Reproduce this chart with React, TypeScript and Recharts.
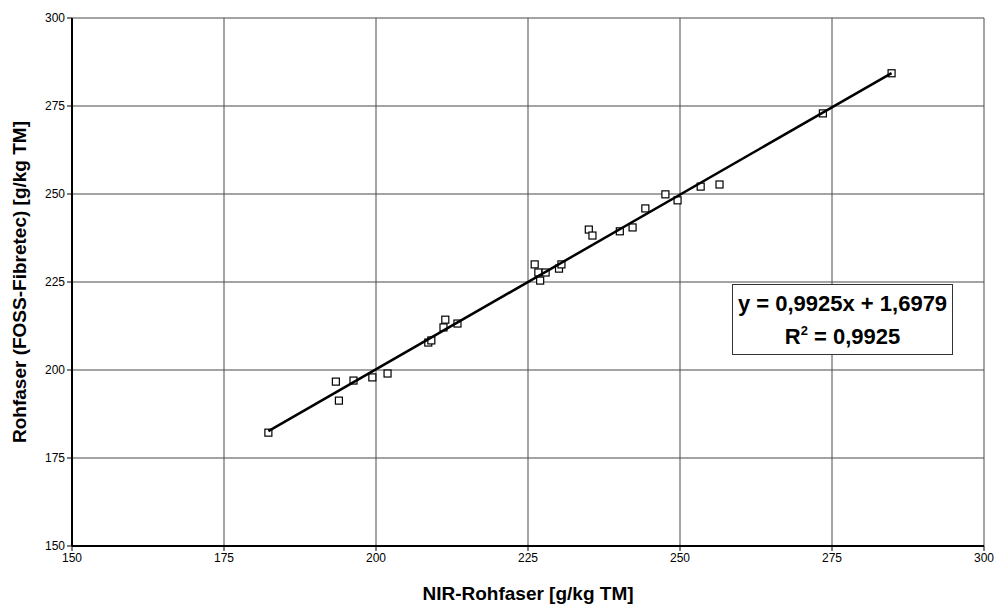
import { CartesianGrid, Label, Scatter, ScatterChart, XAxis, YAxis } from "recharts";

// NIR-Rohfaser (x) vs. FOSS-Fibretec (y), g/kg TM
const nirValues = [
  182.3, 193.4, 193.9, 196.3, 199.4, 201.9, 208.6, 209.1, 211.1, 211.4,
  213.4, 226.1, 226.7, 227.0, 227.9, 230.1, 230.5, 235.0, 235.6, 240.1,
  242.2, 244.3, 247.6, 249.6, 253.4, 256.5, 273.5, 284.8,
];
const fossValues = [
  182.2, 196.7, 191.3, 197.0, 197.9, 199.0, 207.8, 208.4, 212.1, 214.3,
  213.2, 230.0, 227.7, 225.4, 227.7, 228.8, 230.0, 239.9, 238.2, 239.4,
  240.5, 245.9, 249.9, 248.2, 252.1, 252.7, 272.9, 284.3,
];
const axisTicks = [150, 175, 200, 225, 250, 275, 300];
const slope = 0.9925;
const intercept = 1.6979;
const rSquared = "0,9925";

const points = nirValues.map((x, i) => ({ x, y: fossValues[i] }));
const xMin = Math.min(...nirValues);
const xMax = Math.max(...nirValues);
const trend = [
  { x: xMin, y: slope * xMin + intercept },
  { x: xMax, y: slope * xMax + intercept },
];

const fmt = (n: number) => n.toFixed(4).replace(".", ",");

const FONT = "'Liberation Sans', Arial, sans-serif";

function Square(props: any) {
  const { cx, cy } = props;
  if (cx == null || cy == null) return <g />;
  return (
    <rect
      x={cx - 3.5}
      y={cy - 3.5}
      width={7}
      height={7}
      fill="#fff"
      stroke="#000"
      strokeWidth={1.2}
    />
  );
}

// rotated y-axis title, centred on the plot height
function YTitle(props: any) {
  const vb = props.viewBox || {};
  const cx = (vb.x ?? 12) + 7;
  const cy = (vb.y ?? 18) + (vb.height ?? 528) / 2;
  return (
    <text
      x={cx}
      y={cy}
      transform={`rotate(-90 ${cx} ${cy})`}
      textAnchor="middle"
      dominantBaseline="central"
      fontSize={19}
      fontWeight="bold"
      fontFamily={FONT}
      fill="#000"
    >
      Rohfaser (FOSS-Fibretec) [g/kg TM]
    </text>
  );
}

export default function App() {
  return (
    <div
      style={{
        position: "absolute",
        left: 0,
        top: 0,
        width: 996,
        height: 608,
        background: "#fff",
        fontFamily: FONT,
      }}
    >
      <ScatterChart
        width={996}
        height={608}
        margin={{ top: 18, right: 12, bottom: 22, left: 12 }}
      >
        <CartesianGrid stroke="#4a4a4a" strokeWidth={1} />
        <XAxis
          type="number"
          dataKey="x"
          domain={[150, 300]}
          ticks={axisTicks}
          height={40}
          stroke="#000"
          strokeWidth={2}
          tickSize={5}
          tick={{ fontSize: 12, fill: "#000", fontFamily: FONT }}
          tickLine={{ stroke: "#000", strokeWidth: 1 }}
        >
          <Label
            value="NIR-Rohfaser [g/kg TM]"
            position="insideBottom"
            offset={-14}
            style={{ fontSize: 19, fontWeight: "bold", fill: "#000", fontFamily: FONT }}
          />
        </XAxis>
        <YAxis
          type="number"
          dataKey="y"
          domain={[150, 300]}
          ticks={axisTicks}
          width={60}
          stroke="#000"
          strokeWidth={2}
          tickSize={5}
          tick={{ fontSize: 12, fill: "#000", fontFamily: FONT }}
          tickLine={{ stroke: "#000", strokeWidth: 1 }}
        >
          <Label content={YTitle} />
        </YAxis>
        <Scatter data={points} shape={Square} isAnimationActive={false} />
        <Scatter
          data={trend}
          line={{ stroke: "#000", strokeWidth: 2.5 }}
          shape={() => <g />}
          isAnimationActive={false}
        />
      </ScatterChart>
      <div
        style={{
          position: "absolute",
          left: 732,
          top: 284,
          width: 219,
          height: 69,
          border: "1px solid #333",
          background: "#fff",
          textAlign: "center",
          fontWeight: "bold",
          fontSize: 22,
          lineHeight: "33px",
          color: "#000",
          boxSizing: "content-box",
        }}
      >
        <div style={{ marginTop: 2 }}>
          y = {fmt(slope)}x + {fmt(intercept)}
        </div>
        <div>
          R<sup style={{ fontSize: 13, verticalAlign: "9px", lineHeight: 0 }}>2</sup> = {rSquared}
        </div>
      </div>
    </div>
  );
}
